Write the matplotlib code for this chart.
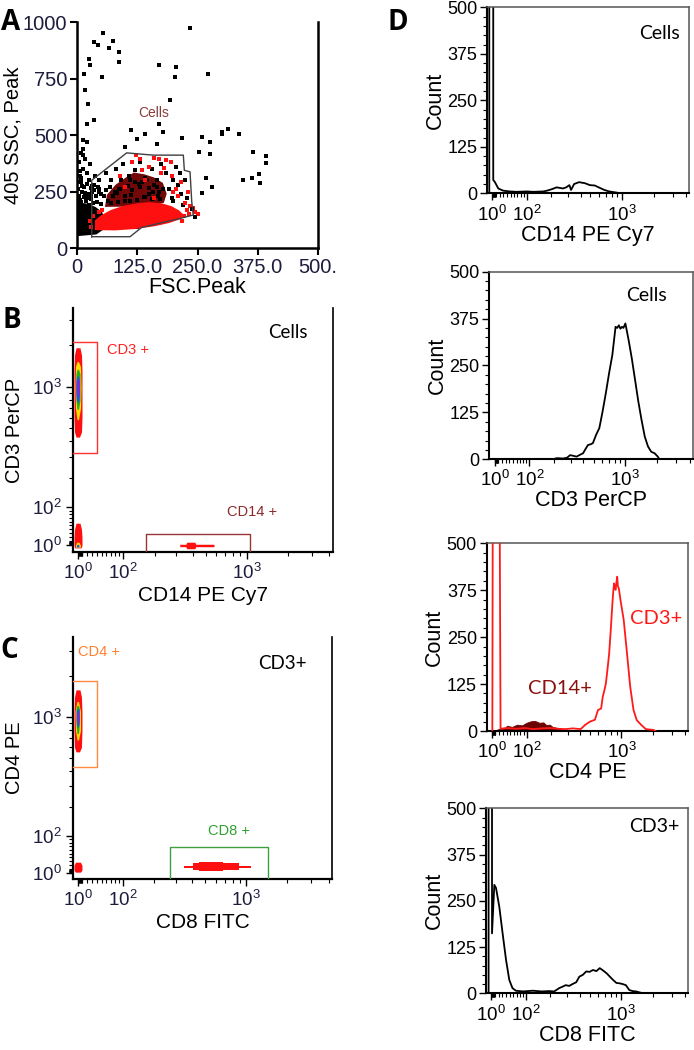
import numpy as np
import matplotlib
matplotlib.use('Agg')
import matplotlib.pyplot as plt
from matplotlib.ticker import FixedLocator, FixedFormatter, NullFormatter

plt.rcParams['font.family'] = ['Liberation Sans', 'DejaVu Sans']
plt.rcParams['mathtext.default'] = 'regular'

# ---------------- DATA ----------------
# Panel A : FSC.Peak vs 405 SSC,Peak
a_gate_x = [30.5, 30.5, 103, 158, 220.5, 222.6, 234.4, 238, 241, 213.7, 134, 110, 30.5]
a_gate_y = [50, 300, 421, 411, 411, 344, 337, 204, 146, 131, 91, 50, 50]
a_black_x = [-2, -2, 8, 22, 38, 52, 58, 55, 40, -2]
a_black_y = [52, 185, 200, 196, 182, 160, 120, 82, 60, 52]
a_maroon_x = [58, 62, 80, 100, 118, 140, 160, 178, 186, 180, 150, 100, 58]
a_maroon_y = [182, 235, 280, 310, 334, 326, 312, 288, 240, 200, 188, 183, 182]
a_red_x = [37, 37, 50, 70, 95, 125, 150, 175, 195, 212, 222, 215, 190, 160, 120, 80, 37]
a_red_y = [79, 122, 145, 168, 186, 198, 203, 198, 186, 166, 145, 128, 110, 96, 84, 78, 79]
a_out_x = [54.6, 35.3, 42.9, 75.4, 67.1, 87.1, 87, 25.6, 27, 15.2, 51.2, 23.5, 36, 16.6, 21.4, 13,
           21.4, 11.8, 13, 234, 169, 205, 203, 272, 193, 169, 112, 124, 99.6, 141, 165, 179, 218,
           259, 276, 276, 254, 300, 314, 300, 337, 364, 392, 392, 362, 345, 378, 380, 280, 259,
           268, 214, 245, 238]
a_out_y = [952, 911, 899, 918, 884, 867, 823, 837, 811, 771, 756, 639, 565, 698, 551, 477,
           469, 440, 411, 974, 808, 800, 756, 771, 656, 551, 521, 484, 447, 506, 462, 513, 487,
           491, 469, 415, 425, 513, 525, 503, 506, 425, 406, 378, 308, 303, 327, 286, 271, 244,
           310, 332, 138, 171]
a_speck_x = [5, 12, 20, 8, 25, 5, 15, 28, 10, 22, 4, 18, 30, 8, 25, 12, 3, 20, 32, 35, 40, 45,
             38, 6, 16, 27, 9, 60, 70, 80, 95, 110, 120, 130, 140, 155, 165, 175, 185, 200, 205,
             210, 190, 170, 215, 225, 228, 220, 200, 90, 75, 100, 130, 150, 160, 140, 110, 85,
             65, 48, 52, 44, 58, 66, 72, 95, 125, 145, 170, 188, 198, 150, 120,
             2, 7, 14, 19, 26, 33, 42, 50, 3, 11, 17, 29, 36, 46, 55, 9, 21, 31, 43, 6, 24,
             78, 88, 105, 115, 135, 145, 165, 178, 92, 128, 108, 158, 68, 82, 60, 45, 50,
             112, 138, 168, 196, 172, 155, 125, 100, 86, 70]
a_speck_y = [380, 350, 330, 310, 300, 290, 270, 265, 250, 240, 230, 220, 215, 205, 190, 180,
             170, 165, 250, 280, 230, 300, 320, 340, 395, 370, 420, 330, 300, 350, 370, 300,
             345, 380, 310, 350, 300, 370, 330, 300, 360, 280, 260, 250, 240, 300, 220, 190,
             210, 260, 230, 230, 270, 240, 280, 225, 210, 205, 210, 160, 120, 140, 100, 95,
             130, 110, 92, 100, 110, 135, 170, 265, 290,
             200, 212, 225, 208, 222, 198, 205, 195, 260, 275, 245, 235, 258, 248, 228, 290,
             285, 276, 268, 318, 302,
             250, 262, 275, 258, 290, 300, 270, 262, 300, 285, 318, 250, 268, 245, 255, 262,
             240,
             235, 225, 232, 222, 218, 215, 212, 208, 202, 198]
a_reddot_x = [240, 245, 235, 225, 250, 210, 200, 185, 195, 150, 130, 170, 205, 160, 115, 135,
              175, 215, 90, 100, 230, 140, 180, 122, 160, 198, 222, 232, 218, 228, 30, 26,
              34, 45, 52]
a_reddot_y = [175, 160, 185, 200, 150, 230, 250, 390, 380, 360, 395, 395, 260, 220, 380, 345,
              330, 290, 320, 270, 250, 300, 355, 410, 400, 320, 140, 150, 120, 168, 95, 120,
              140, 160, 170]

# Panel B : CD14 PE Cy7 vs CD3 PerCP (blob contour levels: y, x_low, x_high)
blob_colors = ['#ff1010', '#ffe000', '#20b020', '#2050ff', '#9020e0']
b_cd3_y = [[430, 470, 600, 900, 1300, 1700, 1910], [580, 700, 1000, 1400, 1520],
           [690, 800, 1000, 1250, 1340], [780, 880, 1100, 1200], [850, 950, 1080, 1150]]
b_cd3_lo = [[-3, -6, -7, -7, -7, -6, -3], [-1, -4, -5, -4, -1], [-1, -3, -4, -3, -1],
            [-1, -3, -3, -1], [-0.5, -2, -2, -0.5]]
b_cd3_hi = [[4, 8, 9, 9, 9, 8, 5], [2, 6, 7, 6, 2], [2, 5, 5, 5, 2], [2, 4, 4, 2], [1.5, 3, 3, 1.5]]
b_neg_y = [[-6, 0, 20, 40, 56], [-5, 0, 8], [-4, 0, 3]]
b_neg_lo = [[-5, -7, -7, -6, -3], [-3, -4, -2], [-2, -2, -1]]
b_neg_hi = [[7, 9, 9, 8, 5], [5, 6, 3], [3, 3, 2]]
b_neg_colors = ['#ff1010', '#ffe000', '#2050ff']
b_cd14_x = [319, 355, 361, 416, 422, 577]
b_cd14_lo = [-3, -3, -8, -8, -3, -3]
b_cd14_hi = [3, 3, 8, 8, 3, 3]
b_gate_cd3_x = [-9, 40, 40, -9]
b_gate_cd3_y = [2115, 2115, 327, 327]
b_gate_cd14_x = [168, 168, 1061, 1061]
b_gate_cd14_y = [-16, 28, 28, -16]

# Panel C : CD8 FITC vs CD4 PE
c_cd4_y = [[555, 600, 800, 1100, 1400, 1580], [680, 800, 1100, 1300], [760, 900, 1150, 1220],
           [850, 950, 1100, 1150], [890, 950, 1050, 1100]]
c_cd4_lo = [[-3, -6, -7, -7, -6, -3], [-1, -4, -5, -1], [-1, -3, -3, -1], [-1, -2.5, -2.5, -1],
            [-0.5, -1.5, -1.5, -0.5]]
c_cd4_hi = [[4, 8, 9, 9, 8, 5], [2, 6, 6, 2], [2, 4, 4, 2], [2, 3.5, 3.5, 2], [1.5, 2.5, 2.5, 1.5]]
c_neg_y = [3, 8, 20, 28]
c_neg_lo = [-4, -7, -7, -4]
c_neg_hi = [6, 9, 9, 6]
c_cd8_x = [[349, 1088], [405, 896], [454, 675]]
c_cd8_lo = [[14.5, 14.5], [8, 8], [6, 6]]
c_cd8_hi = [[19.5, 19.5], [27, 27], [29, 29]]
c_gate_cd4_x = [-9, 40, 40, -9]
c_gate_cd4_y = [1830, 1830, 427, 427]
c_gate_cd8_x = [270, 270, 1439, 1439]
c_gate_cd8_y = [-16, 68, 68, -16]

log_ticks = [1, 100, 1000]
log_labels = ['$10^{0}$', '$10^{2}$', '$10^{3}$']
log_minor = [2, 3, 4, 5, 6, 7, 8, 9, 10, 20, 30, 40, 50, 60, 70, 80, 90,
             200, 300, 400, 500, 600, 700, 800, 900, 2000, 3000, 4000]
count_ticks = [0, 125, 250, 375, 500]

# Panel D histograms
d1_x = [-6.7, -6.7, 3.6, 3.6, 8, 16.7, 29.9, 48, 67, 99, 123, 163, 179, 203, 229, 267, 288,
        310, 322, 346, 387, 443, 493, 550, 610, 679, 757, 885, 955]
d1_y = [0, 3000, 3000, 36, 30, 13, 7, 5, 4, 5, 4, 5, 7, 11, 16, 13, 16, 22, 9, 25, 30, 27, 22,
        21, 15, 9, 5, 2, 0]
d2_x = [192, 216, 250, 274, 295, 320, 342, 370, 396, 420, 442, 470, 493, 529, 568, 610, 655,
        703, 755, 810, 840, 870, 900, 932, 960, 1002, 1074, 1151, 1236, 1325, 1420, 1524, 1633,
        1750, 1882, 2016, 2088]
d2_y = [0, 3, 2, 4, 11, 9, 7, 12, 16, 28, 38, 40, 43, 65, 83, 127, 176, 229, 278, 353, 350,
        357, 348, 353, 350, 362, 318, 269, 211, 154, 105, 60, 34, 20, 16, 7, 0]
d3_x = [2, 4.8, 11, 17.6, 23.5, 40, 68, 95, 123, 160, 193, 240, 284, 340, 406, 447, 500, 558,
        597, 620, 640, 663, 690, 711, 740, 764, 791, 820, 835, 850, 865, 880, 895, 911, 925,
        944, 978, 1050, 1128, 1210, 1300, 1395, 1540, 1700, 2000, 2100]
d3_y = [0, 1500, 3000, 1500, 6, 8, 6, 8, 5, 7, 8, 6, 5, 7, 5, 16, 25, 30, 56, 58, 60, 91, 110,
        127, 170, 207, 269, 340, 370, 393, 380, 376, 395, 411, 385, 380, 349, 296, 207, 118,
        56, 29, 16, 5, 3, 0]
d3f_x = [8, 15, 25, 35, 41, 55, 70, 85, 100, 115, 130, 148, 165, 178, 195, 209, 228, 245, 270, 305]
d3f_y = [0, 4, 7, 9, 14, 11, 17, 15, 22, 26, 27, 22, 23, 16, 17, 11, 9, 6, 4, 0]
d4_x = [-6, -6, 2.9, 2.9, 8.9, 13.2, 21.9, 30.7, 40, 49, 58, 68, 90, 124, 160, 195, 220, 249,
        270, 290, 315, 340, 370, 397, 430, 463, 500, 537, 580, 625, 670, 727, 780, 838, 900,
        962, 1030, 1106, 1189, 1280, 1380, 1600]
d4_y = [0, 3000, 3000, 162, 293, 285, 234, 162, 90, 36, 14, 7, 5, 7, 5, 6, 5, 14, 18, 22, 20,
        25, 30, 45, 50, 59, 58, 63, 60, 68, 62, 54, 45, 36, 28, 27, 25, 22, 9, 6, 5, 0]


# ---------------- HELPERS ----------------
def asinh_funcs(c):
    return (lambda x: np.arcsinh(np.asarray(x, dtype=float) / c),
            lambda u: c * np.sinh(np.asarray(u, dtype=float)))


def log_x_axis(ax, size, pad):
    ax.set_xscale('function', functions=asinh_funcs(120))
    ax.xaxis.set_major_locator(FixedLocator(log_ticks))
    ax.xaxis.set_major_formatter(FixedFormatter(log_labels))
    ax.xaxis.set_minor_locator(FixedLocator(log_minor))
    ax.xaxis.set_minor_formatter(NullFormatter())
    ax.tick_params(axis='x', which='major', direction='out', length=5, width=1.0,
                   labelsize=size, pad=pad)
    ax.tick_params(axis='x', which='minor', direction='out', length=3, width=0.8)


def scatter_panel(ax, ylim):
    log_x_axis(ax, 13.5, 3)
    ax.set_yscale('function', functions=asinh_funcs(150))
    ax.yaxis.set_major_locator(FixedLocator(log_ticks))
    ax.yaxis.set_major_formatter(FixedFormatter(log_labels))
    ax.yaxis.set_minor_locator(FixedLocator(log_minor))
    ax.yaxis.set_minor_formatter(NullFormatter())
    ax.tick_params(axis='y', which='major', direction='out', length=5, width=1.0,
                   labelsize=13.5, pad=3)
    ax.tick_params(axis='y', which='minor', direction='out', length=3, width=0.8)
    ax.tick_params(which='both', labelcolor='#1c1c3c')
    ax.set_xlim(-9, 4240)
    ax.set_ylim(*ylim)
    ax.spines['top'].set_visible(False)
    for s in ['left', 'bottom']:
        ax.spines[s].set_linewidth(1.6)
    ax.spines['right'].set_linewidth(1.2)


def hist_panel(ax, xlabel, note=None, note_pos=None):
    log_x_axis(ax, 13.5, 3)
    ax.set_xlim(-12.7, 4275)
    ax.set_ylim(0, 500)
    ax.yaxis.set_major_locator(FixedLocator(count_ticks))
    ax.yaxis.set_minor_locator(FixedLocator(list(range(0, 501, 25))))
    ax.tick_params(axis='y', which='major', direction='out', length=5, width=1.0,
                   labelsize=13, pad=2)
    ax.tick_params(axis='y', which='minor', direction='out', length=3, width=0.8)
    for s in ['left', 'bottom']:
        ax.spines[s].set_linewidth(1.5)
    for s in ['top', 'right']:
        ax.spines[s].set_linewidth(1.1)
        ax.spines[s].set_color('#555555')
    ax.set_ylabel('Count', fontsize=15.5, labelpad=1)
    ax.set_xlabel(xlabel, fontsize=15.5, labelpad=0)
    if note:
        ax.text(note_pos[0], note_pos[1], note, transform=ax.transAxes, fontsize=14,
                family='Lato', ha='center', va='center', color='black')


fig = plt.figure(figsize=(6.94, 10.5), dpi=100)

# ---------------- Panel A ----------------
axA = fig.add_axes([0.1110, 0.7638, 0.3473, 0.2152])
axA.fill(a_black_x, a_black_y, color='black', lw=0, zorder=2)
axA.fill(a_maroon_x, a_maroon_y, color='#720808', lw=0, zorder=3)
axA.scatter(a_speck_x, a_speck_y, s=5, marker='s', c='black', lw=0, zorder=4)
axA.fill(a_red_x, a_red_y, color='#ff1010', lw=0, zorder=5)
axA.scatter(a_reddot_x, a_reddot_y, s=5, marker='s', c='#ff1010', lw=0, zorder=5)
axA.scatter(a_out_x, a_out_y, s=5, marker='s', c='black', lw=0, zorder=6)
axA.plot(a_gate_x, a_gate_y, color='#404040', lw=1.0, zorder=7)
axA.text(127, 598, 'Cells', color='#8b3a3a', fontsize=10, va='center', zorder=8)
axA.set_xlim(0, 500)
axA.set_ylim(0, 1000)
axA.set_xticks([0, 125, 250, 375, 500])
axA.set_xticklabels(['0', '125.0', '250.0', '375.0', '500.'])
axA.set_yticks([0, 250, 500, 750, 1000])
axA.spines['top'].set_visible(False)
for s in ['left', 'bottom', 'right']:
    axA.spines[s].set_linewidth(1.8)
axA.tick_params(direction='out', length=5, width=1.5, labelsize=14.5, labelcolor='#1c1c3c', pad=2)
axA.set_xlabel('FSC.Peak', fontsize=15.5, labelpad=0)
axA.set_ylabel('405 SSC, Peak', fontsize=14.5, labelpad=0)

# ---------------- Panel B ----------------
axB = fig.add_axes([0.1052, 0.4743, 0.3746, 0.2324])
scatter_panel(axB, (-16, 3670))
for ys, lo, hi, col in zip(b_cd3_y, b_cd3_lo, b_cd3_hi, blob_colors):
    axB.fill_betweenx(ys, lo, hi, color=col, lw=0, zorder=3)
for ys, lo, hi, col in zip(b_neg_y, b_neg_lo, b_neg_hi, b_neg_colors):
    axB.fill_betweenx(ys, lo, hi, color=col, lw=0, zorder=3)
axB.fill_between(b_cd14_x, b_cd14_lo, b_cd14_hi, color='#ff1010', lw=0, zorder=3)
axB.plot(b_gate_cd3_x, b_gate_cd3_y, color='#ff3030', lw=1.0, zorder=4, clip_on=False)
axB.plot(b_gate_cd14_x, b_gate_cd14_y, color='#9a3535', lw=1.0, zorder=4)
axB.text(0.131, 0.828, 'CD3 +', transform=axB.transAxes, color='#ff2020', fontsize=10.5,
         va='center')
axB.text(0.592, 0.164, 'CD14 +', transform=axB.transAxes, color='#8b2a2a', fontsize=10.5,
         va='center')
axB.text(0.825, 0.90, 'Cells', transform=axB.transAxes, color='black', fontsize=13.5,
         family='Lato', ha='center', va='center')
axB.set_xlabel('CD14 PE Cy7', fontsize=15, labelpad=2)
axB.set_ylabel('CD3 PerCP', fontsize=14.5, labelpad=6)

# ---------------- Panel C ----------------
axC = fig.add_axes([0.1052, 0.1629, 0.3732, 0.2305])
scatter_panel(axC, (-14, 3815))
for ys, lo, hi, col in zip(c_cd4_y, c_cd4_lo, c_cd4_hi, blob_colors):
    axC.fill_betweenx(ys, lo, hi, color=col, lw=0, zorder=3)
axC.fill_betweenx(c_neg_y, c_neg_lo, c_neg_hi, color='#ff1010', lw=0, zorder=3)
for xs, lo, hi in zip(c_cd8_x, c_cd8_lo, c_cd8_hi):
    axC.fill_between(xs, lo, hi, color='#ff1010', lw=0, zorder=3)
axC.plot(c_gate_cd4_x, c_gate_cd4_y, color='#ff8a40', lw=1.0, zorder=4, clip_on=False)
axC.plot(c_gate_cd8_x, c_gate_cd8_y, color='#40a040', lw=1.0, zorder=4)
axC.text(0.02, 0.938, 'CD4 +', transform=axC.transAxes, color='#ff8030', fontsize=10.5,
         va='center')
axC.text(0.52, 0.198, 'CD8 +', transform=axC.transAxes, color='#30a030', fontsize=10.5,
         va='center')
axC.text(0.81, 0.89, 'CD3+', transform=axC.transAxes, color='black', fontsize=13.5,
         family='Lato', ha='center', va='center')
axC.set_xlabel('CD8 FITC', fontsize=15, labelpad=2)
axC.set_ylabel('CD4 PE', fontsize=14.5, labelpad=6)

# ---------------- Panel D ----------------
axD1 = fig.add_axes([0.7017, 0.8159, 0.2911, 0.1771])
axD1.plot(d1_x, d1_y, color='black', lw=1.3)
hist_panel(axD1, 'CD14 PE Cy7', 'Cells', (0.856, 0.862))

axD2 = fig.add_axes([0.7050, 0.5626, 0.2932, 0.1787])
axD2.plot(d2_x, d2_y, color='black', lw=1.3)
hist_panel(axD2, 'CD3 PerCP', 'Cells', (0.773, 0.873))

axD3 = fig.add_axes([0.7013, 0.3038, 0.2905, 0.1788])
axD3.fill_between(d3f_x, 0, d3f_y, color='#6b0505', lw=0.6, edgecolor='#6b0505', zorder=2)
axD3.plot(d3_x, d3_y, color='#ff1a1a', lw=1.3, zorder=3)
hist_panel(axD3, 'CD4 PE')
axD3.text(0.205, 0.226, 'CD14+', transform=axD3.transAxes, color='#8b1010', fontsize=14.5,
          family='Lato', va='center')
axD3.text(0.711, 0.60, 'CD3+', transform=axD3.transAxes, color='#ff1a1a', fontsize=14.5,
          family='Lato', va='center')

axD4 = fig.add_axes([0.7003, 0.0540, 0.2915, 0.1762])
axD4.plot(d4_x, d4_y, color='black', lw=1.3)
hist_panel(axD4, 'CD8 FITC', 'CD3+', (0.83, 0.90))

# ---------------- Panel letters ----------------
for lab, x, y in [('A', 0.002, 1 - 30 / 1050), ('B', 0.004, 1 - 328 / 1050),
                  ('C', 0.0, 1 - 658 / 1050), ('D', 0.559, 1 - 30 / 1050)]:
    fig.text(x, y, lab, fontsize=20, fontweight='bold', family='Open Sans', va='baseline')

fig.savefig('out.png', dpi=100)
